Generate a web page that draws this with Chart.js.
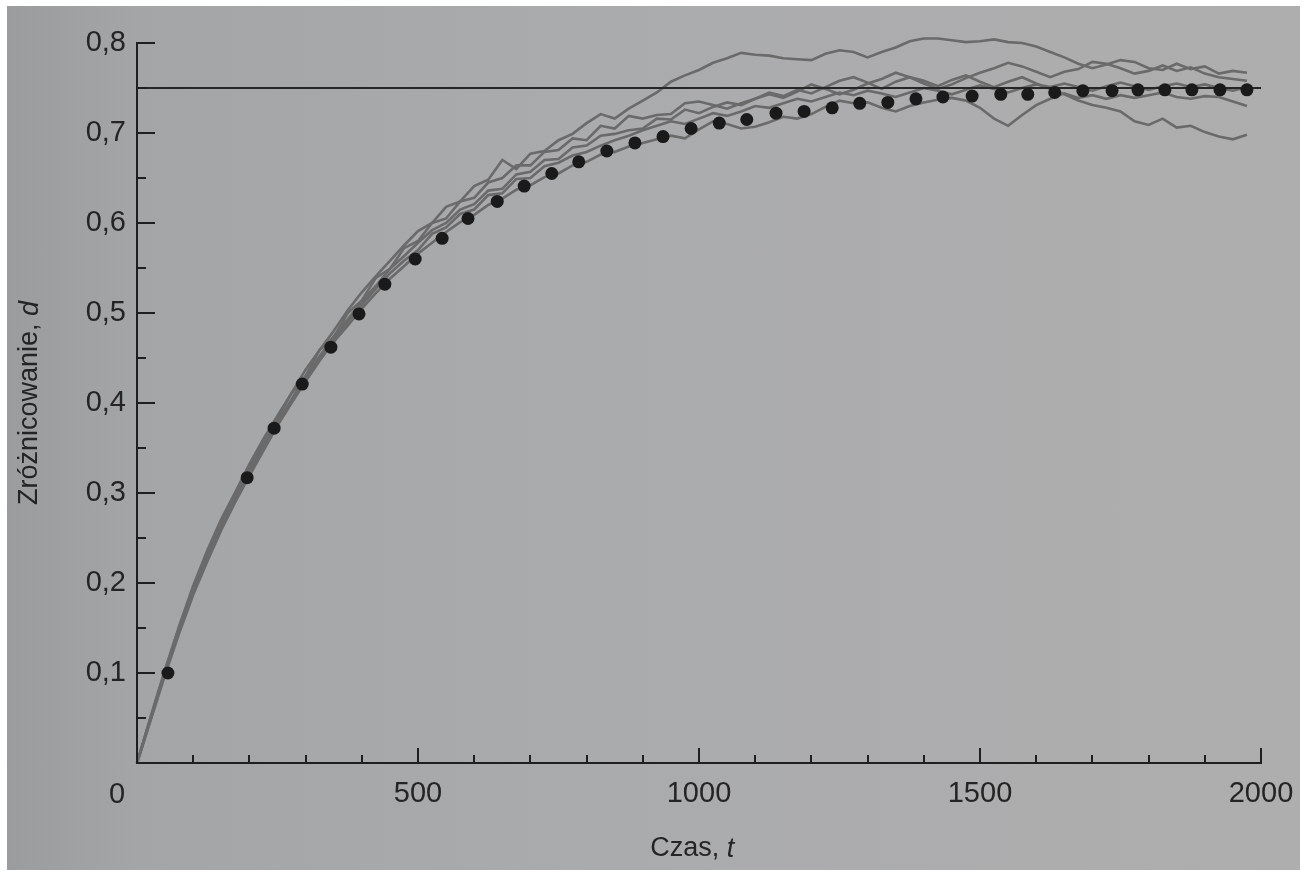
<!DOCTYPE html>
<html>
<head>
<meta charset="utf-8">
<title>Zróżnicowanie w czasie</title>
<script src="https://cdn.jsdelivr.net/npm/chart.js@4.4.1/dist/chart.umd.min.js"></script>
<style>
  html, body { margin: 0; padding: 0; background: #fff; }
  body { width: 1309px; height: 874px; position: relative; overflow: hidden; }
  .paper {
    position: absolute; left: 7px; top: 6px; width: 1293px; height: 864px;
    background: linear-gradient(90deg, #9b9c9e 0%, #a4a5a7 10%, #aaabad 45%, #aeaeae 100%);
  }
  #chart { position: absolute; left: 0; top: 0; }
</style>
</head>
<body>
<div class="paper"></div>
<canvas id="chart" width="1309" height="874"></canvas>
<script>
// time axis for the five simulated runs
const times = [0, 25, 50, 75, 100, 125, 150, 175, 200, 225,
  250, 275, 300, 325, 350, 375, 400, 425, 450, 475,
  500, 525, 550, 575, 600, 625, 650, 675, 700, 725,
  750, 775, 800, 825, 850, 875, 900, 925, 950, 975,
  1000, 1025, 1050, 1075, 1100, 1125, 1150, 1175, 1200, 1225,
  1250, 1275, 1300, 1325, 1350, 1375, 1400, 1425, 1450, 1475,
  1500, 1525, 1550, 1575, 1600, 1625, 1650, 1675, 1700, 1725,
  1750, 1775, 1800, 1825, 1850, 1875, 1900, 1925, 1950, 1975];

const runA = [0, 0.053, 0.104, 0.152, 0.197, 0.236, 0.271, 0.301, 0.332, 0.360,
  0.386, 0.411, 0.437, 0.459, 0.480, 0.503, 0.523, 0.541, 0.558, 0.575,
  0.591, 0.600, 0.618, 0.624, 0.641, 0.648, 0.670, 0.660, 0.677, 0.680,
  0.692, 0.699, 0.711, 0.721, 0.716, 0.727, 0.736, 0.745, 0.757, 0.764,
  0.770, 0.778, 0.783, 0.789, 0.787, 0.786, 0.783, 0.782, 0.781, 0.788,
  0.792, 0.790, 0.784, 0.790, 0.795, 0.802, 0.805, 0.805, 0.803, 0.801,
  0.802, 0.804, 0.801, 0.800, 0.796, 0.790, 0.784, 0.777, 0.772, 0.776,
  0.781, 0.779, 0.772, 0.770, 0.777, 0.771, 0.774, 0.766, 0.769, 0.767];

const runB = [0, 0.051, 0.101, 0.148, 0.192, 0.229, 0.265, 0.296, 0.325, 0.352,
  0.379, 0.404, 0.430, 0.452, 0.474, 0.493, 0.513, 0.530, 0.549, 0.563,
  0.578, 0.592, 0.600, 0.615, 0.621, 0.636, 0.638, 0.654, 0.657, 0.670,
  0.671, 0.684, 0.686, 0.697, 0.699, 0.703, 0.705, 0.716, 0.715, 0.726,
  0.722, 0.729, 0.734, 0.731, 0.738, 0.745, 0.741, 0.748, 0.744, 0.751,
  0.758, 0.762, 0.756, 0.749, 0.757, 0.762, 0.758, 0.752, 0.759, 0.764,
  0.757, 0.751, 0.757, 0.762, 0.755, 0.749, 0.743, 0.736, 0.731, 0.728,
  0.724, 0.713, 0.709, 0.716, 0.706, 0.708, 0.701, 0.696, 0.693, 0.698];

const runC = [0, 0.049, 0.098, 0.144, 0.187, 0.224, 0.259, 0.290, 0.319, 0.347,
  0.375, 0.400, 0.424, 0.447, 0.468, 0.486, 0.505, 0.522, 0.538, 0.552,
  0.566, 0.578, 0.590, 0.601, 0.609, 0.620, 0.627, 0.637, 0.642, 0.651,
  0.655, 0.664, 0.668, 0.676, 0.679, 0.685, 0.689, 0.693, 0.697, 0.694,
  0.704, 0.713, 0.710, 0.705, 0.707, 0.712, 0.718, 0.716, 0.721, 0.729,
  0.736, 0.733, 0.734, 0.728, 0.724, 0.730, 0.734, 0.737, 0.739, 0.736,
  0.728, 0.716, 0.708, 0.720, 0.731, 0.738, 0.744, 0.739, 0.742, 0.738,
  0.742, 0.739, 0.742, 0.745, 0.740, 0.738, 0.741, 0.740, 0.735, 0.730];

const runD = [0, 0.052, 0.103, 0.151, 0.195, 0.233, 0.268, 0.299, 0.328, 0.356,
  0.383, 0.411, 0.430, 0.459, 0.473, 0.500, 0.514, 0.539, 0.549, 0.572,
  0.580, 0.600, 0.605, 0.624, 0.628, 0.645, 0.650, 0.664, 0.664, 0.679,
  0.681, 0.694, 0.692, 0.708, 0.705, 0.719, 0.716, 0.720, 0.721, 0.733,
  0.735, 0.731, 0.727, 0.733, 0.738, 0.743, 0.739, 0.746, 0.754, 0.749,
  0.743, 0.748, 0.755, 0.760, 0.767, 0.762, 0.755, 0.749, 0.754, 0.761,
  0.767, 0.772, 0.778, 0.774, 0.768, 0.762, 0.768, 0.771, 0.779, 0.777,
  0.772, 0.766, 0.769, 0.775, 0.769, 0.773, 0.766, 0.762, 0.760, 0.758];

const runE = [0, 0.050, 0.100, 0.147, 0.190, 0.228, 0.263, 0.294, 0.322, 0.350,
  0.378, 0.402, 0.427, 0.450, 0.470, 0.490, 0.509, 0.527, 0.544, 0.558,
  0.570, 0.588, 0.595, 0.610, 0.615, 0.631, 0.633, 0.649, 0.650, 0.663,
  0.667, 0.675, 0.679, 0.686, 0.692, 0.697, 0.703, 0.708, 0.713, 0.710,
  0.716, 0.722, 0.719, 0.724, 0.730, 0.728, 0.733, 0.738, 0.735, 0.740,
  0.745, 0.742, 0.747, 0.744, 0.740, 0.745, 0.750, 0.747, 0.743, 0.748,
  0.753, 0.749, 0.745, 0.750, 0.754, 0.751, 0.755, 0.751, 0.747, 0.752,
  0.756, 0.752, 0.748, 0.752, 0.755, 0.751, 0.754, 0.750, 0.747, 0.751];

// black dots (expected curve)
const dotTimes = [55, 196, 244, 294, 345, 395, 441, 495, 543, 589,
  641, 689, 738, 786, 836, 886, 936, 986, 1036, 1085,
  1137, 1187, 1237, 1286, 1336, 1386, 1434, 1486, 1537, 1585,
  1633, 1683, 1735, 1781, 1829, 1877, 1927, 1975];
const dotValues = [0.100, 0.317, 0.372, 0.421, 0.462, 0.499, 0.532, 0.560, 0.583, 0.605,
  0.624, 0.641, 0.655, 0.668, 0.680, 0.689, 0.696, 0.705, 0.711, 0.715,
  0.722, 0.724, 0.728, 0.733, 0.734, 0.738, 0.740, 0.741, 0.743, 0.743,
  0.745, 0.747, 0.747, 0.748, 0.748, 0.748, 0.748, 0.748];

// equilibrium level
const equilibrium = 0.75;
const timeRange = [0, 2000];

const xTitle = ["Czas, ", "t"];
const yTitle = ["Zróżnicowanie, ", "d"];
const originLabel = "0";

const FONT = "'Liberation Sans', Arial, Helvetica, sans-serif";
const INK = "#1f1f1f";
const TEXT = "#242424";
const RUN_COLOR = "#6a6a6a";

function isMajor(v, step) {
  const r = v / step;
  return Math.abs(r - Math.round(r)) < 1e-6;
}

function drawMixed(ctx, text, cx, cy, size) {
  const fonts = [size + "px " + FONT, "italic " + size + "px " + FONT];
  const widths = text.map((t, i) => {
    ctx.font = fonts[i];
    return ctx.measureText(t).width;
  });
  let px = cx - (widths[0] + widths[1]) / 2;
  ctx.textAlign = "left";
  ctx.textBaseline = "middle";
  text.forEach((t, i) => {
    ctx.font = fonts[i];
    ctx.fillText(t, px, cy);
    px += widths[i];
  });
}

// inward tick marks, origin label and axis titles
const axisDecor = {
  id: "axisDecor",
  afterDraw(chart) {
    const ctx = chart.ctx;
    const xs = chart.scales.x;
    const ys = chart.scales.y;
    const area = chart.chartArea;
    ctx.save();
    ctx.strokeStyle = INK;
    ctx.lineWidth = 2;
    ctx.beginPath();
    ys.ticks.forEach((t) => {
      const py = Math.round(ys.getPixelForValue(t.value));
      const len = isMajor(t.value, 0.1) ? 18 : 9;
      ctx.moveTo(area.left, py);
      ctx.lineTo(area.left + len, py);
    });
    xs.ticks.forEach((t) => {
      const px = Math.round(xs.getPixelForValue(t.value));
      const len = isMajor(t.value, 500) ? 15 : 8;
      ctx.moveTo(px, area.bottom);
      ctx.lineTo(px, area.bottom - len);
    });
    ctx.stroke();

    ctx.fillStyle = TEXT;
    ctx.font = "29px " + FONT;
    ctx.textAlign = "center";
    ctx.textBaseline = "middle";
    ctx.fillText(originLabel, xs.getPixelForValue(0) - 20, area.bottom + 32);

    drawMixed(ctx, xTitle, xs.getPixelForValue(988), area.bottom + 86, 27);

    ctx.translate(30, (area.top + area.bottom) / 2);
    ctx.rotate(-Math.PI / 2);
    drawMixed(ctx, yTitle, 0, 0, 27);
    ctx.restore();
  },
};

const runs = [runA, runB, runC, runD, runE];

const datasets = [
  {
    label: "dots",
    data: dotTimes.map((t, i) => ({ x: t, y: dotValues[i] })),
    showLine: false,
    pointRadius: 6.5,
    pointBackgroundColor: "#1a1a1a",
    pointBorderWidth: 0,
  },
  {
    label: "equilibrium",
    data: timeRange.map((t) => ({ x: t, y: equilibrium })),
    borderColor: "#262626",
    borderWidth: 2,
    pointRadius: 0,
  },
].concat(
  runs.map((r, i) => ({
    label: "run " + (i + 1),
    data: r,
    borderColor: RUN_COLOR,
    borderWidth: 2.6,
    pointRadius: 0,
    clip: false,
  }))
);

new Chart(document.getElementById("chart"), {
  type: "line",
  data: { labels: times, datasets: datasets },
  options: {
    responsive: false,
    animation: false,
    devicePixelRatio: 1,
    layout: { padding: { left: 0, top: 43, right: 48, bottom: 0 } },
    plugins: { legend: { display: false }, tooltip: { enabled: false } },
    elements: { line: { tension: 0 } },
    scales: {
      x: {
        type: "linear",
        min: 0,
        max: 2000,
        grid: { display: false, drawTicks: false },
        border: { display: true, color: INK, width: 2 },
        ticks: {
          stepSize: 100,
          autoSkip: false,
          maxRotation: 0,
          padding: 14,
          color: TEXT,
          font: { family: FONT, size: 29 },
          callback: (v) => (v !== 0 && isMajor(v, 500) ? String(v) : ""),
        },
        afterFit: (s) => {
          s.height = 111;
        },
      },
      y: {
        min: 0,
        max: 0.8,
        grid: { display: false, drawTicks: false },
        border: { display: true, color: INK, width: 2 },
        ticks: {
          stepSize: 0.05,
          autoSkip: false,
          padding: 11,
          color: TEXT,
          font: { family: FONT, size: 29 },
          callback: (v) =>
            v > 0 && isMajor(v, 0.1) ? v.toFixed(1).replace(".", ",") : "",
        },
        afterFit: (s) => {
          s.width = 137;
        },
      },
    },
  },
  plugins: [axisDecor],
});
</script>
</body>
</html>
